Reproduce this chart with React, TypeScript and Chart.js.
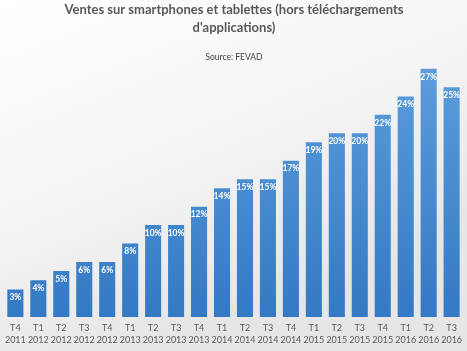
import React, { useEffect, useRef } from "react";
import { Chart, registerables } from "chart.js";

Chart.register(...registerables);

const quarters = ["T4", "T1", "T2", "T3", "T4", "T1", "T2", "T3", "T4", "T1", "T2", "T3", "T4", "T1", "T2", "T3", "T4", "T1", "T2", "T3"];
const years = ["2011", "2012", "2012", "2012", "2012", "2013", "2013", "2013", "2013", "2014", "2014", "2014", "2014", "2015", "2015", "2015", "2015", "2016", "2016", "2016"];
const shares = [3, 4, 5, 6, 6, 8, 10, 10, 12, 14, 15, 15, 17, 19, 20, 20, 22, 24, 27, 25];
const titleLines = ["Ventes sur smartphones et tablettes (hors téléchargements", "d'applications)"];
const subtitleText = "Source: FEVAD";

const FONT = "Lato, 'Open Sans', sans-serif";

const bgPlugin = {
  id: "bgPlugin",
  beforeDraw(chart: any) {
    const { ctx, width, height } = chart;
    const g = ctx.createLinearGradient(0, 0, width * 0.3, height);
    g.addColorStop(0, "#ffffff");
    g.addColorStop(0.5, "#f6f6f6");
    g.addColorStop(1, "#e6e6e6");
    ctx.save();
    ctx.fillStyle = g;
    ctx.fillRect(0, 0, width, height);
    ctx.restore();
  },
};

const labelPlugin = {
  id: "labelPlugin",
  afterDatasetsDraw(chart: any) {
    const { ctx } = chart;
    const meta = chart.getDatasetMeta(0);
    ctx.save();
    ctx.fillStyle = "#ffffff";
    ctx.font = `bold 8.5px ${FONT}`;
    ctx.textAlign = "center";
    ctx.textBaseline = "middle";
    meta.data.forEach((bar: any, i: number) => {
      ctx.fillText(shares[i] + "%", bar.x, bar.y + 8);
    });
    ctx.restore();
  },
};

export default function App() {
  const ref = useRef<HTMLCanvasElement | null>(null);
  useEffect(() => {
    document.body.style.margin = "0";
    const canvas = ref.current!;
    const chart = new Chart(canvas, {
      type: "bar",
      data: {
        labels: quarters.map((q, i) => [q, years[i]]),
        datasets: [
          {
            data: shares,
            backgroundColor: (c: any) => {
              const area = c.chart.chartArea;
              if (!area) return "#4a8bd0";
              const g = c.chart.ctx.createLinearGradient(0, area.top, 0, area.bottom);
              g.addColorStop(0, "#5c9ddb");
              g.addColorStop(1, "#3479c4");
              return g;
            },
            barPercentage: 0.7,
            categoryPercentage: 1,
          },
        ],
      },
      options: {
        animation: false,
        responsive: false,
        maintainAspectRatio: false,
        layout: { padding: { top: 0, bottom: 0, left: 1, right: 0 } },
        plugins: {
          legend: { display: false },
          tooltip: { enabled: false },
          title: {
            display: true,
            text: titleLines,
            color: "#595959",
            font: { family: FONT, size: 13, weight: "bold", lineHeight: 1.385 },
            padding: { top: 1, bottom: 10 },
          },
          subtitle: {
            display: true,
            text: subtitleText,
            color: "#404040",
            font: { family: FONT, size: 8.5, lineHeight: 1.2 },
            padding: { top: 5, bottom: 2 },
          },
        },
        scales: {
          x: {
            grid: { display: false, drawTicks: false },
            border: { display: false },
            ticks: {
              color: "#595959",
              font: { family: FONT, size: 9, lineHeight: 1.33 },
              padding: 5,
              maxRotation: 0,
              autoSkip: false,
            },
          },
          y: {
            display: false,
            min: 0,
            max: 27.5,
          },
        },
      },
      plugins: [bgPlugin, labelPlugin],
    });
    return () => chart.destroy();
  }, []);
  return <canvas ref={ref} width={467} height={351} style={{ display: "block" }} />;
}
